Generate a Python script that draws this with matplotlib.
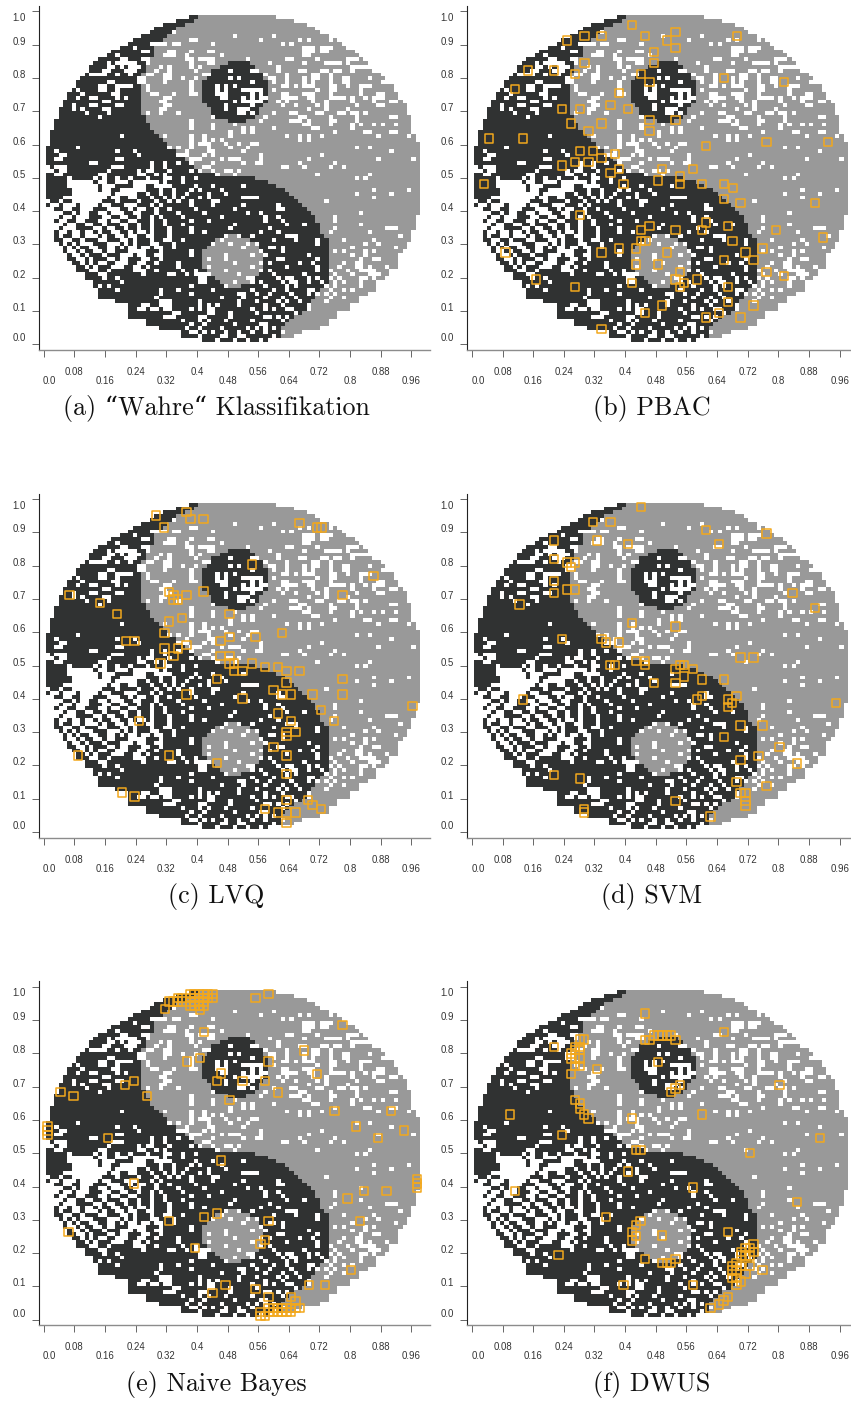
"""Yin-yang classification panels with selected samples."""
import numpy as np
import matplotlib

matplotlib.use("Agg")
import matplotlib.pyplot as plt
from matplotlib.colors import ListedColormap

# class raster, read per row from the picture (row 0 is the top one)
ROW_LEFT = [33, 30, 27, 25, 24, 22, 20, 19, 17, 15, 14, 12, 11, 10, 10, 9, 8, 7, 7, 6, 5, 5, 4, 4, 3, 3, 3, 2, 2, 2,
            1, 1, 1, 1, 0, 0, 0, 0, 0, 0, 0, 0, 0, 0, 0, 0, 0, 0, 0, 0, 0, 1, 1, 1, 2, 2, 2, 2, 2, 3, 4, 4, 5, 5, 6,
            7, 7, 9, 9, 11, 11, 12, 12, 12, 16, 16, 19, 19, 19, 23, 23, 26, 31, 31, 36]
ROW_RIGHT = [53, 57, 60, 62, 63, 65, 67, 68, 69, 71, 72, 73, 74, 74, 75, 77, 78, 78, 80, 80, 81, 81, 82, 83, 83, 83,
             84, 84, 84, 84, 84, 85, 85, 86, 86, 86, 86, 86, 86, 86, 86, 86, 86, 86, 86, 86, 86, 86, 86, 86, 86, 86,
             85, 85, 85, 85, 84, 84, 84, 83, 83, 82, 82, 81, 81, 81, 79, 79, 78, 76, 76, 76, 74, 72, 72, 70, 70, 67,
             67, 65, 65, 63, 59, 57, 51]
ROW_SPLIT = [35, 34, 32, 30, 29, 28, 27, 26, 25, 25, 25, 24, 24, 23, 23, 22, 22, 22, 22, 22, 22, 22, 22, 22, 22, 22,
             23, 23, 24, 24, 25, 26, 27, 28, 29, 30, 31, 32, 33, 34, 36, 39, 48, 51, 53, 55, 56, 57, 58, 59, 60, 61,
             62, 62, 63, 63, 63, 64, 65, 65, 65, 65, 65, 65, 65, 65, 65, 65, 65, 65, 65, 63, 63, 62, 61, 61, 60, 59,
             57, 56, 55, 54, 54, 54, 51]
EYE_TOP_START = [42, 40, 38, 37, 37, 36, 36, 36, 36, 36, 36, 37, 38, 38, 39, 42]
EYE_TOP_STOP = [47, 48, 49, 50, 50, 51, 51, 51, 51, 51, 51, 50, 49, 49, 48, 46]
EYE_LOW_START = [41, 39, 38, 37, 36, 36, 36, 36, 36, 37, 38, 39, 40, 42]
EYE_LOW_STOP = [45, 47, 48, 49, 50, 50, 50, 50, 50, 50, 49, 48, 47, 45]

# cells without a class, per row
HOLES = [
    [], [], [], [],
    [29],
    [43, 52],
    [33, 34, 49, 58, 60, 65],
    [24, 25, 26, 27, 29, 30, 38, 54, 56],
    [20, 59, 60, 61, 63, 64, 65],
    [22, 23, 28, 29, 33, 37, 38, 59, 60, 61, 63, 64],
    [16, 27, 28, 29, 32, 40, 59, 60],
    [17, 18, 22, 23, 32, 33, 35, 36, 37, 38, 46, 55, 56, 62, 69, 70, 71],
    [14, 16, 17, 18, 19, 20, 23, 33, 37, 38, 51, 59, 64, 65, 66, 67, 69],
    [14, 15, 17, 19, 20, 21, 26, 28, 33, 35, 53, 70, 71, 72, 73],
    [13, 14, 18, 19, 20, 25, 28, 34, 42, 47, 48, 53, 58, 59, 63, 64, 66, 67, 70, 75],
    [10, 11, 12, 13, 16, 19, 23, 24, 27, 28, 36, 37, 50, 55, 61, 62, 65],
    [21, 22, 27, 28, 31, 34, 42, 44, 51, 52, 55, 59, 61, 62, 65, 68, 69, 74],
    [14, 15, 21, 22, 27, 33, 47, 52, 55, 59, 61, 65, 68, 69, 77],
    [12, 13, 16, 17, 18, 19, 23, 33, 39, 41, 43, 54, 55, 57, 59, 60, 61, 65, 66, 69, 72, 73, 74],
    [7, 12, 13, 16, 23, 33, 39, 41, 45, 46, 47, 48, 49, 52, 62, 65, 66, 72],
    [8, 15, 16, 24, 25, 29, 33, 34, 39, 40, 41, 47, 49, 54, 55, 59, 60, 61, 65, 72, 76, 77],
    [7, 10, 11, 16, 18, 27, 28, 40, 41, 45, 47, 49, 50, 54, 55, 56, 57, 60, 61, 65, 66, 67, 68, 70, 73, 75, 76, 77],
    [13, 14, 26, 27, 43, 45, 46, 47, 48, 49, 53, 55, 61, 64, 70, 75, 79, 80],
    [6, 10, 11, 16, 17, 27, 28, 41, 47, 54, 57, 62, 64, 71, 76, 77],
    [6, 8, 13, 14, 26, 27, 41, 44, 45, 46, 60, 64, 69],
    [9, 14, 23, 26, 30, 44, 45, 47, 52, 56, 57, 62, 63, 67, 68, 70, 71, 73],
    [12, 38, 50, 58, 59, 65, 71, 79, 80],
    [33, 49, 56, 57, 58, 60, 65, 66, 71],
    [33, 38, 43, 59, 60, 65, 70, 72, 75, 77, 80],
    [33, 38, 45, 47, 52, 61, 62, 70],
    [42, 45, 47, 66, 73, 74, 79, 80],
    [17, 27, 33, 36, 42, 55, 58, 60, 63, 76, 83],
    [33, 36, 38, 40, 58, 60],
    [33, 35, 36, 37, 41, 44, 47, 48],
    [7, 28, 30, 33, 37, 42, 46, 71, 74],
    [2, 16, 20, 32, 37, 38, 45, 79],
    [3, 4, 21, 30, 31, 32, 36, 38, 49, 63],
    [2, 3, 16, 17, 33, 34, 35, 40, 42, 43, 44, 49, 60, 76, 84],
    [10, 11, 24, 27, 30, 33, 38, 45, 48, 49, 58, 66],
    [0, 2, 3, 4, 15, 16, 17, 24, 27, 36, 37, 54, 55, 59, 65, 68],
    [0, 1, 3, 4, 14, 21, 23, 24, 28, 33, 35, 38, 41, 42, 44],
    [2, 3, 12, 13, 21, 22, 25, 27, 39, 43, 62, 74],
    [5, 11, 13, 16, 19, 23, 27, 28, 31, 34, 71, 73],
    [5, 6, 7, 8, 9, 10, 12, 13, 16, 17, 18, 20, 21, 22, 23, 24, 25, 27, 31],
    [5, 6, 7, 8, 9, 10, 11, 13, 14, 15, 20, 21, 22, 25, 26, 27, 28, 34, 38, 45],
    [6, 7, 8, 9, 10, 11, 13, 14, 17, 18, 19, 20, 21, 22, 26, 29, 33, 35, 40, 75, 83],
    [6, 7, 8, 9, 10, 11, 12, 13, 14, 16, 17, 18, 19, 20, 23, 26, 29, 32, 37, 41, 71, 79],
    [4, 5, 6, 7, 8, 9, 10, 11, 12, 13, 15, 16, 19, 20, 24, 27, 29, 31, 35, 37, 45, 46, 47, 48, 75],
    [0, 3, 6, 7, 8, 9, 10, 11, 12, 16, 21, 25, 28, 30, 33, 38, 39, 64],
    [1, 2, 4, 5, 6, 8, 9, 10, 11, 13, 14, 18, 19, 20, 24, 26, 33, 38, 45, 53],
    [0, 1, 4, 5, 8, 9, 10, 14, 15, 16, 19, 21, 22, 25, 28, 34, 43, 53, 54],
    [1, 2, 3, 6, 8, 9, 12, 13, 15, 16, 17, 20, 21, 25, 30, 36, 46, 49, 72],
    [1, 2, 4, 5, 7, 8, 9, 13, 14, 17, 18, 21, 24, 26, 31, 40, 50, 53, 66],
    [1, 3, 4, 7, 8, 12, 13, 15, 16, 19, 20, 24, 27, 33, 37, 50, 54, 66],
    [2, 3, 5, 6, 9, 10, 13, 17, 18, 21, 24, 27, 31, 43, 55, 59, 72],
    [2, 4, 5, 6, 11, 12, 14, 15, 18, 21, 24, 28, 33, 42, 51, 66, 78, 79, 80],
    [3, 4, 6, 7, 9, 10, 12, 15, 16, 19, 21, 22, 24, 28, 33, 36, 49, 53, 65, 74],
    [3, 6, 7, 9, 10, 11, 13, 16, 17, 19, 20, 23, 24, 28, 41, 44, 47, 55, 56, 57, 81],
    [4, 5, 8, 12, 13, 17, 18, 20, 24, 27, 28, 31, 40, 52, 57, 62, 68, 75],
    [4, 6, 8, 9, 10, 14, 15, 16, 18, 20, 24, 25, 29, 38, 42, 46, 48, 62, 73, 76, 83],
    [5, 7, 10, 11, 14, 15, 17, 19, 20, 22, 23, 25, 26, 29, 45, 51, 52, 54, 70, 80],
    [5, 6, 8, 11, 12, 14, 15, 19, 20, 21, 22, 26, 33, 49, 54, 66, 68, 73, 75],
    [6, 7, 9, 13, 17, 18, 19, 21, 22, 25, 26, 33, 41, 47, 50, 60, 70, 73, 81],
    [7, 8, 10, 14, 15, 17, 18, 22, 23, 26, 37, 41, 53, 54, 62, 72, 75, 76],
    [8, 10, 12, 13, 16, 17, 18, 21, 22, 25, 30, 43, 49, 51, 58, 61, 68, 71, 72],
    [9, 11, 15, 16, 17, 20, 21, 23, 30, 37, 47, 55, 62, 67, 71, 72, 74, 78],
    [10, 11, 14, 20, 21, 22, 25, 31, 34, 41, 49, 51, 62, 65, 69, 72, 73, 74, 75],
    [12, 13, 22, 28, 29, 32, 34, 35, 36, 37, 44, 52, 59, 66, 70, 74, 75, 76],
    [13, 16, 35, 36, 46, 47, 53, 55, 56, 60, 62, 65, 67, 72, 73, 75],
    [17, 35, 36, 43, 47, 49, 54, 56, 57, 60, 63, 66, 68, 72],
    [12, 14, 33, 41, 50, 55, 57, 64, 66, 72],
    [16, 26, 30, 38, 47, 52, 55, 60, 61, 65, 68, 70],
    [26, 33, 44, 45, 48, 51, 56, 60, 62, 64, 66],
    [25, 40, 45, 50, 54, 57, 65, 68],
    [26, 27, 28, 35, 44, 48, 53, 55, 58, 64],
    [16, 17, 18, 22, 23, 26, 27, 28, 35, 37, 39, 44, 50, 54, 60],
    [21, 22, 24, 25, 27, 28, 33, 35, 37, 38, 47, 50, 52, 55, 56, 60],
    [29, 30, 37, 38, 42, 48, 57],
    [27, 28, 29, 35, 36, 42, 50, 51, 53, 55],
    [31, 35, 37, 41, 47, 54],
    [33, 36, 43, 49, 50],
    [32, 35, 40, 46, 48, 50, 52],
    [33, 34, 36, 38, 41, 44, 47, 50, 54],
    [35, 40, 41, 44, 45, 52],
    [39, 43, 46, 49],
]

# selected samples per panel
PBAC_X = [.418, .294, .338, .248, .452, .532, .509, .532, .692, .476, .294, .476, .146, .214, .270, .442, .464, .658,
          .815, .112, .384, .236, .282, .362, .408, .259, .338, .464, .532, .304, .464, .044, .134, .612, .769, .930,
          .282, .316, .374, .270, .304, .338, .236, .384, .362, .497, .578, .543, .032, .396, .486, .543, .600, .658,
          .681, .658, .701, .896, .282, .612, .464, .668, .442, .532, .600, .794, .917, .442, .453, .680, .384, .429,
          .338, .088, .509, .714, .759, .735, .658, .429, .486, .769, .815, .543, .532, .587, .554, .168, .418, .270,
          .543, .668, .735, .668, .497, .452, .646, .612, .701, .338]
PBAC_Y = [.959, .926, .926, .912, .926, .937, .912, .889, .926, .878, .845, .845, .822, .822, .811, .811, .788, .800,
          .788, .766, .755, .707, .707, .719, .707, .663, .663, .674, .674, .641, .641, .618, .618, .596, .607, .607,
          .581, .581, .571, .548, .548, .559, .537, .526, .515, .526, .526, .504, .482, .482, .492, .482, .482, .482,
          .470, .436, .425, .425, .388, .366, .355, .355, .343, .343, .343, .343, .321, .310, .310, .310, .288, .288,
          .276, .276, .276, .276, .288, .254, .254, .240, .240, .217, .206, .217, .195, .195, .184, .195, .184, .173,
          .173, .173, .117, .128, .117, .095, .095, .081, .081, .047]
LVQ_X = [.293, .373, .383, .417, .314, .668, .714, .725, .544, .861, .067, .147, .191, .327, .339, .339, .350, .373,
         .417, .780, .485, .361, .327, .315, .214, .237, .485, .462, .553, .622, .373, .350, .315, .339, .305, .462,
         .485, .485, .497, .544, .577, .612, .497, .519, .634, .668, .452, .634, .780, .600, .623, .646, .702, .780,
         .373, .519, .963, .724, .612, .249, .646, .758, .634, .657, .634, .600, .089, .327, .634, .452, .634, .204,
         .237, .634, .690, .702, .724, .577, .612, .634, .657, .634]
LVQ_Y = [.951, .962, .940, .940, .915, .929, .915, .915, .803, .769, .711, .688, .654, .721, .711, .698, .698, .711,
         .722, .711, .654, .643, .632, .598, .573, .573, .585, .573, .585, .598, .562, .551, .551, .528, .506, .528,
         .528, .506, .506, .506, .495, .495, .483, .483, .483, .483, .460, .449, .460, .427, .413, .413, .413, .413,
         .413, .401, .379, .367, .356, .334, .334, .334, .300, .300, .289, .255, .230, .230, .230, .208, .174, .119,
         .107, .096, .096, .082, .070, .070, .059, .059, .059, .027]
SVM_X = [.442, .316, .362, .612, .769, .214, .327, .408, .645, .214, .248, .270, .259, .214, .248, .270, .214, .837,
         .124, .896, .418, .532, .236, .338, .350, .384, .701, .735, .429, .452, .361, .374, .452, .532, .543, .554,
         .578, .554, .476, .532, .600, .658, .691, .600, .587, .668, .679, .668, .134, .951, .701, .759, .658, .803,
         .748, .701, .849, .214, .282, .769, .691, .701, .714, .714, .714, .532, .293, .293, .623]
SVM_Y = [.976, .932, .932, .906, .896, .875, .875, .865, .865, .820, .809, .809, .796, .753, .728, .728, .717, .717,
         .683, .672, .628, .617, .579, .580, .569, .569, .524, .524, .513, .513, .502, .502, .502, .490, .502, .502,
         .490, .467, .447, .447, .458, .458, .409, .409, .398, .398, .387, .375, .398, .387, .320, .320, .286, .255,
         .228, .217, .206, .172, .161, .139, .150, .117, .117, .094, .080, .094, .070, .059, .047]
BAYES_X = [.383, .394, .405, .417, .428, .442, .350, .361, .383, .394, .405, .417, .428, .442, .327, .339, .350, .361,
           .383, .394, .405, .417, .383, .394, .405, .417, .316, .408, .553, .587, .418, .780, .679, .408, .374, .587,
           .463, .713, .236, .213, .452, .519, .577, .044, .078, .270, .611, .485, .759, .907, .815, .941, .010, .010,
           .010, .168, .873, .463, .975, .975, .975, .236, .837, .895, .793, .452, .418, .327, .587, .826, .065, .577,
           .566, .395, .802, .475, .692, .735, .553, .441, .587, .645, .657, .587, .599, .611, .623, .634, .646, .657,
           .668, .566, .587, .599, .611, .623, .634, .646, .566, .577]
BAYES_Y = [.979, .979, .979, .979, .979, .979, .967, .967, .967, .967, .967, .967, .967, .967, .956, .956, .956, .956,
           .956, .956, .956, .956, .944, .944, .944, .944, .933, .932, .967, .978, .864, .886, .808, .785, .775, .775,
           .739, .738, .716, .705, .716, .716, .716, .683, .671, .671, .682, .660, .627, .627, .580, .568, .580, .568,
           .555, .545, .545, .478, .423, .409, .397, .409, .386, .386, .364, .319, .308, .297, .297, .297, .263, .239,
           .227, .216, .149, .105, .105, .105, .093, .080, .068, .068, .057, .035, .035, .035, .035, .035, .035, .035,
           .035, .023, .023, .023, .023, .023, .023, .023, .011, .011]
DWUS_X = [.452, .658, .214, .282, .293, .270, .282, .259, .270, .282, .259, .270, .282, .270, .282, .259, .327, .486,
          .452, .464, .476, .487, .497, .509, .520, .532, .803, .543, .532, .520, .270, .282, .282, .293, .304, .100,
          .418, .600, .236, .908, .429, .440, .726, .408, .578, .112, .849, .350, .440, .429, .668, .418, .429, .418,
          .497, .735, .726, .714, .702, .735, .726, .714, .702, .226, .452, .532, .497, .509, .520, .679, .691, .702,
          .726, .759, .679, .691, .714, .679, .691, .702, .691, .396, .578, .668, .657, .645, .623]
DWUS_Y = [.920, .864, .819, .842, .842, .819, .819, .799, .809, .809, .784, .784, .784, .762, .762, .738, .752, .774,
          .841, .841, .854, .854, .854, .854, .854, .841, .705, .705, .694, .683, .660, .649, .634, .616, .604, .616,
          .604, .616, .555, .545, .510, .510, .500, .445, .397, .386, .353, .308, .297, .285, .263, .263, .251, .238,
          .253, .228, .215, .215, .203, .203, .193, .193, .193, .194, .182, .182, .171, .171, .171, .161, .171, .161,
          .161, .149, .148, .148, .138, .126, .126, .115, .104, .105, .105, .068, .058, .046, .035]

CAPTIONS = ["(a) \u201cWahre\u201c Klassifikation", "(b) PBAC", "(c) LVQ", "(d) SVM", "(e) Naive Bayes", "(f) DWUS"]
X_TICKS = [0.0, 0.08, 0.16, 0.24, 0.32, 0.4, 0.48, 0.56, 0.64, 0.72, 0.8, 0.88, 0.96]
Y_TICKS = [0.0, 0.1, 0.2, 0.3, 0.4, 0.5, 0.6, 0.7, 0.8, 0.9, 1.0]

WIDTH, HEIGHT = 851, 1405
DARK, GRAY, ORANGE = "#303232", "#999999", "#f2a81d"
TICK_FONT = ["Liberation Sans", "DejaVu Sans"]


def class_raster():
    raster = np.zeros((len(HOLES), 86), dtype=int)
    for row in range(len(HOLES)):
        raster[row, ROW_LEFT[row]:ROW_RIGHT[row]] = 2
        raster[row, ROW_LEFT[row]:ROW_SPLIT[row]] = 1
    for offset, (start, stop) in enumerate(zip(EYE_TOP_START, EYE_TOP_STOP)):
        raster[12 + offset, start:stop] = 1
    for offset, (start, stop) in enumerate(zip(EYE_LOW_START, EYE_LOW_STOP)):
        raster[57 + offset, start:stop] = 2
    for row, holes in enumerate(HOLES):
        raster[row, holes] = 0
    return raster


def draw_panel(figure, column, row, raster, caption, xs, ys):
    left = 38.5 + 428.2 * column
    top = 6 + 487.7 * row
    axis = figure.add_axes((left / WIDTH, 1 - (top + 344) / HEIGHT, 391.5 / WIDTH, 344 / HEIGHT))
    axis.set_xlim(-0.0136, 1.0086)
    axis.set_ylim(-0.017, 1.016)

    x_edges = 0.005 + np.arange(raster.shape[1] + 1) / 88
    y_edges = 0.989 - np.arange(raster.shape[0] + 1) * 0.01154
    axis.pcolormesh(x_edges, y_edges, raster, cmap=ListedColormap(["white", DARK, GRAY]), vmin=0, vmax=2)
    if xs:
        axis.scatter(xs, ys, s=36, marker="s", facecolors="none", edgecolors=ORANGE, linewidths=1.1, clip_on=False)

    for side in ("top", "right"):
        axis.spines[side].set_visible(False)
    axis.spines["left"].set_color("#222222")
    axis.spines["bottom"].set_color("#8c8c8c")
    axis.spines["bottom"].set_linewidth(1.0)
    axis.set_xticks(X_TICKS, labels=[])
    axis.set_yticks(Y_TICKS, labels=[])
    axis.tick_params(axis="x", length=5, width=0.7, color="#666666")
    axis.tick_params(axis="y", length=5, width=0.7, color="#666666")

    for index, value in enumerate(X_TICKS):
        drop = -22 if index % 2 else -31
        shift = 6 if index == 0 else 0
        axis.annotate(str(value), (value, 0), xycoords=("data", "axes fraction"), xytext=(shift, drop),
                      textcoords="offset pixels", ha="center", va="center", fontsize=6.9, color="#333333", family=TICK_FONT)
    for value in Y_TICKS:
        # the two end labels are pushed inwards, the others sit just above their tick
        lift = -6.7 if value == 1.0 else 6 if value == 0.0 else 3
        axis.annotate(str(value), (0, value), xycoords=("axes fraction", "data"), xytext=(-19.5, lift),
                      textcoords="offset pixels", ha="center", va="center", fontsize=6.9, color="#333333", family=TICK_FONT)

    center = 216 + (436 if column else 0)
    figure.text(center / WIDTH, 1 - (408 + 488.0 * row) / HEIGHT, caption, ha="center", va="center",
                fontsize=18.7, family=["cmr10", "DejaVu Serif"], color="#111111")


raster = class_raster()
figure = plt.figure(figsize=(WIDTH / 100, HEIGHT / 100), dpi=100)
panels = [([], []), (PBAC_X, PBAC_Y), (LVQ_X, LVQ_Y), (SVM_X, SVM_Y), (BAYES_X, BAYES_Y), (DWUS_X, DWUS_Y)]
for index, (xs, ys) in enumerate(panels):
    draw_panel(figure, index % 2, index // 2, raster, CAPTIONS[index], xs, ys)
figure.savefig("out.png", dpi=100)
plt.close(figure)
